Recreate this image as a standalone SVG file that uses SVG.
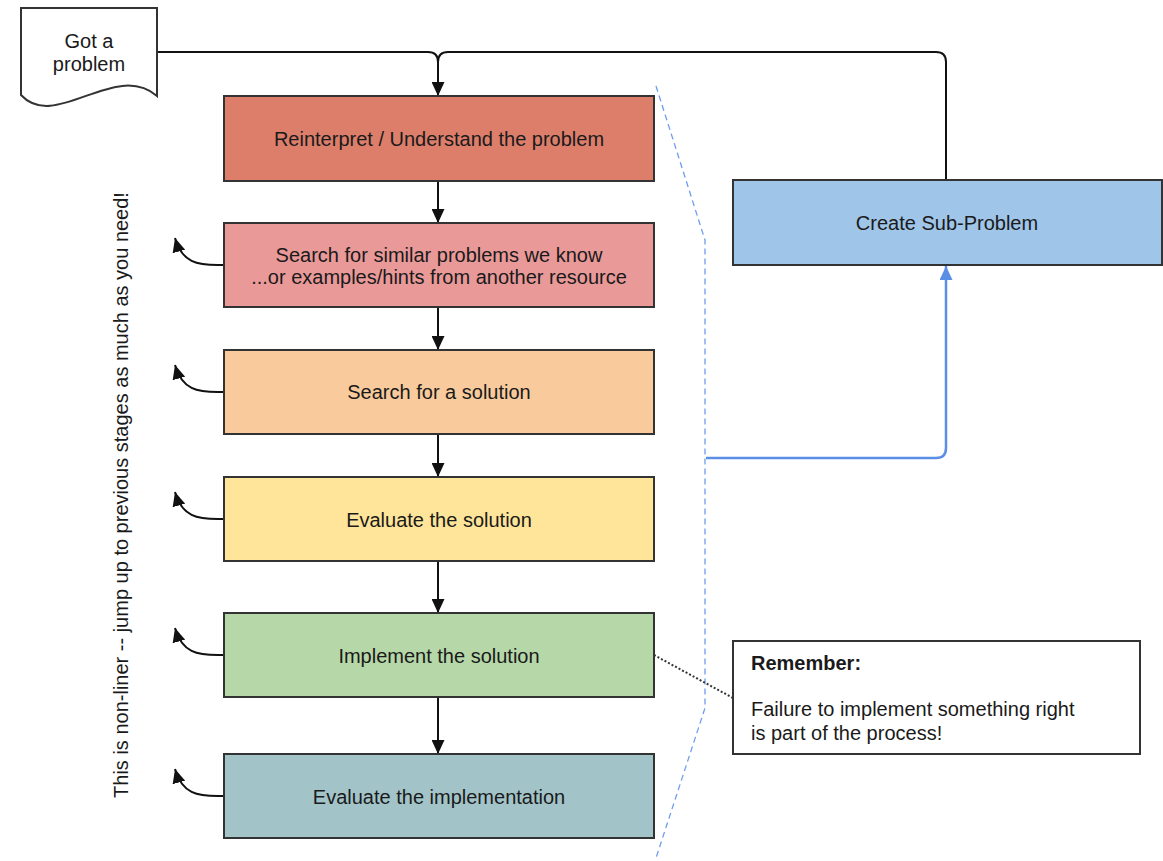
<svg xmlns="http://www.w3.org/2000/svg" width="1163" height="861" viewBox="0 0 1163 861">
  <style>
    .box { stroke: #333333; stroke-width: 2; }
    .lbl { font-family: "Liberation Sans", Arial, sans-serif; font-size: 20px; fill: #1a1a1a; text-anchor: middle; dominant-baseline: central; }
    .note { font-family: "Liberation Sans", Arial, sans-serif; font-size: 20px; fill: #1a1a1a; }
    .flow { fill: none; stroke: #111111; stroke-width: 2; }
    .back { fill: none; stroke: #111111; stroke-width: 2; }
    .sub { fill: none; stroke: #5b8fe6; stroke-width: 2.5; }
  </style>
  <defs>
    <marker id="arr" viewBox="0 0 14 13" refX="14" refY="6.5" markerUnits="userSpaceOnUse" markerWidth="14" markerHeight="13" orient="auto">
      <path d="M0,0 L14,6.5 L0,13 z" fill="#111111"/>
    </marker>
    <marker id="arrBlue" viewBox="0 0 14 13" refX="14" refY="6.5" markerUnits="userSpaceOnUse" markerWidth="14" markerHeight="13" orient="auto">
      <path d="M0,0 L14,6.5 L0,13 z" fill="#5b8fe6"/>
    </marker>
  </defs>

  <rect width="1163" height="861" fill="#ffffff"/>

  <!-- connectors -->
  <g id="connectors">
    <path class="flow" d="M157,52 H428 Q438,52 438,62 V96" marker-end="url(#arr)"/>
    <path class="flow" d="M946,180 V62 Q946,52 936,52 H448 Q438,52 438,62"/>
    <path class="flow" d="M438,181 V223" marker-end="url(#arr)"/>
    <path class="flow" d="M438,307 V350" marker-end="url(#arr)"/>
    <path class="flow" d="M438,434 V477" marker-end="url(#arr)"/>
    <path class="flow" d="M438,561 V613" marker-end="url(#arr)"/>
    <path class="flow" d="M438,697 V754" marker-end="url(#arr)"/>
    <!-- jump-back arrows -->
    <path class="back" d="M224,265 C196,266 182,262 175,238" marker-end="url(#arr)"/>
    <path class="back" d="M224,392 C196,393 182,389 175,365" marker-end="url(#arr)"/>
    <path class="back" d="M224,519 C196,520 182,516 175,492" marker-end="url(#arr)"/>
    <path class="back" d="M224,655 C196,656 182,652 175,628" marker-end="url(#arr)"/>
    <path class="back" d="M224,796 C196,797 182,793 175,769" marker-end="url(#arr)"/>
    <!-- bracket and sub-problem link -->
    <path d="M656,86 L705,240 V708 L656,858" fill="none" stroke="#6d9eeb" stroke-width="1.3" stroke-dasharray="6,4"/>
    <path class="sub" d="M706,458 H936 Q946,458 946,448 V266" marker-end="url(#arrBlue)"/>
    <path d="M654,655 L733,698" fill="none" stroke="#333333" stroke-width="2" stroke-dasharray="2,2"/>
  </g>

  <g id="start">
    <path d="M21,8 H157 V96 C115,60 55,132 21,95 Z" fill="#ffffff" stroke="#333333" stroke-width="2"/>
    <text class="lbl" x="89" y="41">Got a</text>
    <text class="lbl" x="89" y="64">problem</text>
  </g>

  <g id="reinterpret">
    <rect class="box" x="224" y="96" width="430" height="85" fill="#dd7e6b"/>
    <text class="lbl" x="439" y="139">Reinterpret / Understand the problem</text>
  </g>

  <g id="similar">
    <rect class="box" x="224" y="223" width="430" height="84" fill="#ea9999"/>
    <text class="lbl" x="439" y="255">Search for similar problems we know</text>
    <text class="lbl" x="439" y="277">...or examples/hints from another resource</text>
  </g>

  <g id="search">
    <rect class="box" x="224" y="350" width="430" height="84" fill="#f9cb9c"/>
    <text class="lbl" x="439" y="392">Search for a solution</text>
  </g>

  <g id="evaluate">
    <rect class="box" x="224" y="477" width="430" height="84" fill="#ffe599"/>
    <text class="lbl" x="439" y="520">Evaluate the solution</text>
  </g>

  <g id="implement">
    <rect class="box" x="224" y="613" width="430" height="84" fill="#b6d7a8"/>
    <text class="lbl" x="439" y="656">Implement the solution</text>
  </g>

  <g id="evaluate-impl">
    <rect class="box" x="224" y="754" width="430" height="84" fill="#a2c4c9"/>
    <text class="lbl" x="439" y="797">Evaluate the implementation</text>
  </g>

  <g id="subproblem">
    <rect class="box" x="733" y="180" width="429" height="85" fill="#9fc5e8"/>
    <text class="lbl" x="947" y="223">Create Sub-Problem</text>
  </g>

  <g id="remember">
    <rect x="733" y="641" width="407" height="113" fill="#ffffff" stroke="#333333" stroke-width="2"/>
    <text class="note" x="751" y="670" font-weight="bold">Remember:</text>
    <text class="note" x="751" y="716">Failure to implement something right</text>
    <text class="note" x="751" y="740">is part of the process!</text>
  </g>

  <g id="side-note">
    <text class="note" x="128" y="495" text-anchor="middle" transform="rotate(-90 128 495)">This is non-liner -- jump up to previous stages as much as you need!</text>
  </g>
</svg>
